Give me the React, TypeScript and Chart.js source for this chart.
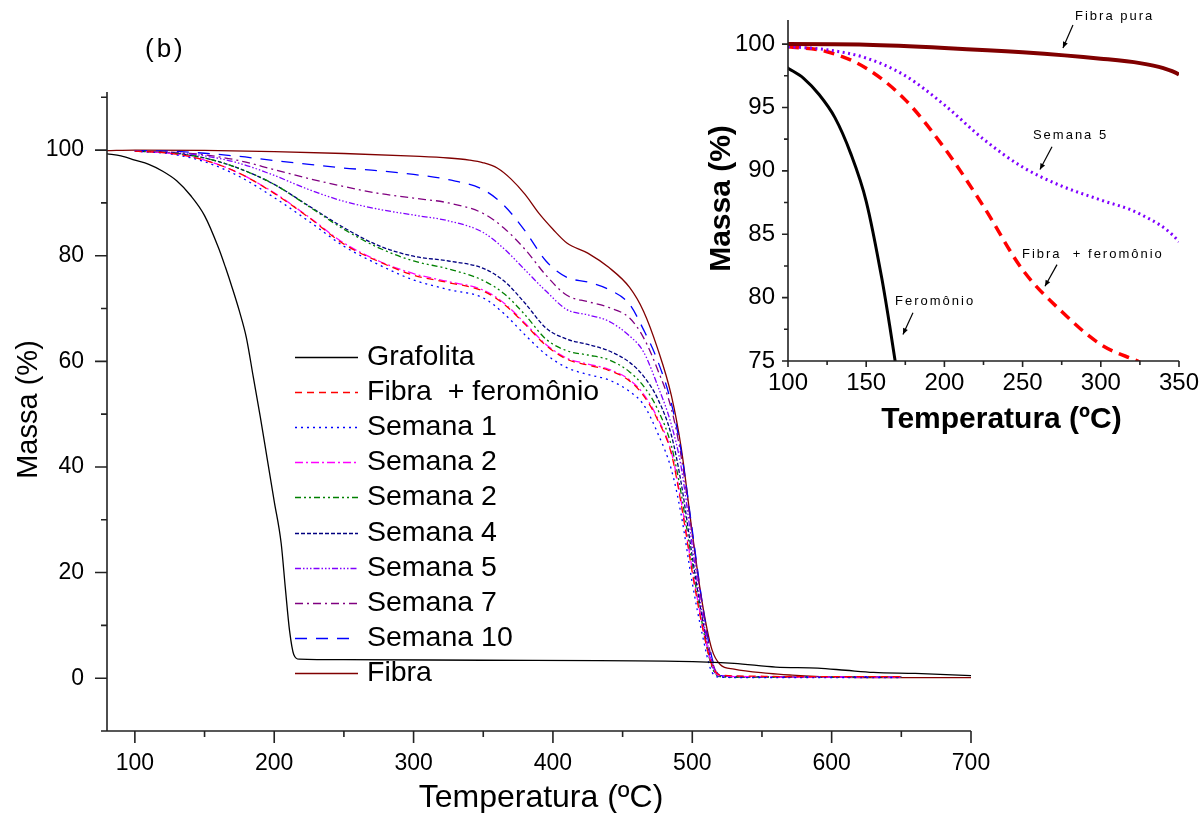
import React, { useEffect, useRef } from "react";
import { Chart, registerables } from "chart.js";

Chart.register(...registerables);

const FONT = "'Liberation Sans', Arial, Helvetica, sans-serif";

// ---------- data ----------
const tempGrafolita = [80, 90, 100, 110, 120, 130, 140, 150, 160, 165, 170, 175, 180, 185, 190, 195, 200, 205, 208, 211, 214, 218, 250, 350, 490, 530, 560, 590, 610, 630, 660, 700];
const grafolita = [99.3, 98.9, 98.1, 97.3, 96.0, 94.2, 91.4, 87.6, 81.5, 77.8, 73.8, 69.5, 64.5, 57.0, 49.5, 41.5, 33.5, 25.5, 17.0, 9.0, 4.5, 3.6, 3.5, 3.4, 3.2, 2.8, 2.1, 1.9, 1.5, 1.1, 0.9, 0.5];

const tempFibra = [80, 100, 150, 200, 250, 300, 325, 340, 350, 360, 370, 380, 390, 400, 410, 425, 440, 455, 465, 475, 485, 492, 500, 507, 514, 520, 530, 555, 570, 600, 650, 700];
const fibra = [99.9, 100.0, 99.95, 99.7, 99.35, 98.85, 98.5, 98.1, 97.6, 96.6, 94.5, 91.6, 88.0, 85.0, 82.4, 80.5, 77.8, 74.0, 69.5, 62.5, 53.5, 43.7, 27.5, 14.5, 5.5, 2.6, 1.7, 0.9, 0.6, 0.2, 0.1, 0.1];

const tempSemana = [100, 125, 150, 175, 200, 225, 250, 275, 300, 325, 350, 365, 380, 395, 410, 425, 440, 455, 465, 475, 485, 492, 500, 507, 514, 520, 540, 570, 600, 650];
const fibraFeromonio = [99.8, 99.4, 98.1, 95.6, 91.8, 87.2, 82.2, 78.9, 76.3, 74.9, 73.3, 70.8, 67.0, 63.0, 60.4, 59.3, 58.3, 56.3, 53.5, 49.0, 42.5, 33.0, 20.0, 10.0, 2.5, 0.6, 0.4, 0.3, 0.3, 0.3];
const semana1 = [99.8, 99.3, 97.8, 95.0, 91.0, 86.5, 81.8, 78.3, 75.4, 73.6, 72.0, 69.0, 65.0, 61.3, 58.8, 57.5, 56.5, 54.3, 51.8, 46.5, 39.5, 31.0, 18.0, 8.5, 1.2, 0.2, 0.1, 0.1, 0.1, 0.1];
const semana2a = [99.8, 99.4, 98.1, 95.6, 91.9, 87.3, 82.4, 79.0, 76.6, 75.1, 73.5, 71.0, 67.2, 63.2, 60.6, 59.5, 58.5, 56.5, 53.8, 49.3, 42.8, 33.5, 20.5, 10.5, 2.6, 0.4, 0.3, 0.2, 0.2, 0.2];
const semana2b = [99.8, 99.5, 98.5, 96.5, 93.5, 89.3, 85.0, 81.5, 79.0, 77.5, 75.3, 72.8, 68.8, 64.2, 62.0, 61.2, 60.3, 58.0, 55.3, 51.0, 44.0, 35.0, 21.5, 10.5, 2.2, 0.3, 0.2, 0.2, 0.2, 0.2];
const semana4 = [99.8, 99.5, 98.5, 96.5, 93.5, 89.4, 85.3, 81.9, 79.9, 79.0, 77.6, 75.2, 71.0, 66.3, 64.2, 63.2, 62.0, 59.8, 57.2, 53.0, 46.0, 37.0, 23.0, 11.5, 2.5, 0.3, 0.2, 0.2, 0.2, 0.2];
const semana5 = [99.8, 99.55, 98.9, 97.5, 95.2, 92.5, 90.3, 88.8, 87.7, 86.6, 84.4, 81.3, 77.3, 73.3, 69.8, 68.8, 67.6, 64.8, 61.8, 55.5, 48.0, 40.0, 25.0, 12.5, 3.0, 0.4, 0.3, 0.3, 0.3, 0.3];
const semana7 = [99.8, 99.6, 99.1, 98.0, 96.3, 94.6, 93.1, 91.8, 90.9, 90.0, 88.0, 85.2, 81.2, 76.3, 72.5, 71.3, 70.2, 68.2, 64.5, 58.5, 51.0, 42.0, 27.0, 14.0, 3.5, 0.5, 0.3, 0.3, 0.3, 0.3];
const semana10 = [99.9, 99.8, 99.4, 98.8, 98.0, 97.3, 96.6, 96.1, 95.4, 94.4, 92.5, 89.5, 84.7, 79.0, 75.9, 75.0, 73.6, 70.8, 66.0, 60.2, 52.0, 43.0, 28.0, 14.5, 4.0, 0.5, 0.3, 0.3, 0.3, 0.3];

const legendLabels = ["Grafolita", "Fibra  + feromônio", "Semana 1", "Semana 2", "Semana 2", "Semana 4", "Semana 5", "Semana 7", "Semana 10", "Fibra"];

const mainXMajor = [100, 200, 300, 400, 500, 600, 700];
const mainXMinor = [150, 250, 350, 450, 550, 650];
const mainYMajor = [0, 20, 40, 60, 80, 100];
const mainYMinor = [-10, 10, 30, 50, 70, 90, 110];

const insetXMajor = [100, 150, 200, 250, 300, 350];
const insetXMinor = [125, 175, 225, 275, 325];
const insetYMajor = [75, 80, 85, 90, 95, 100];
const insetYMinor = [77.5, 82.5, 87.5, 92.5, 97.5];

const insetNoteText = ["Fibra pura", "Semana 5", "Fibra  + feromônio", "Feromônio"];
const insetNoteAnchor = [[283.5, 102.15], [256.6, 92.8], [249.6, 83.4], [168.4, 79.7]];
const insetArrowFrom = [[282.2, 101.5], [268.8, 91.9], [272.0, 82.6], [179.9, 78.8]];
const insetArrowTo = [[275.8, 99.7], [261.1, 90.1], [264.3, 80.9], [173.5, 77.1]];

// ---------- helpers ----------
const pts = (xs: number[], ys: number[]) => xs.map((x, i) => ({ x, y: ys[i] }));

type SeriesStyle = { xs: number[]; ys: number[]; color: string; dash: number[] };
const mainSeries: SeriesStyle[] = [
  { xs: tempGrafolita, ys: grafolita, color: "#000000", dash: [] },
  { xs: tempSemana, ys: fibraFeromonio, color: "#FF0000", dash: [7, 5] },
  { xs: tempSemana, ys: semana1, color: "#0000FF", dash: [2, 4] },
  { xs: tempSemana, ys: semana2a, color: "#FF00FF", dash: [8, 3, 2, 3] },
  { xs: tempSemana, ys: semana2b, color: "#008000", dash: [6, 3, 2, 3, 2, 3] },
  { xs: tempSemana, ys: semana4, color: "#000080", dash: [4, 2] },
  { xs: tempSemana, ys: semana5, color: "#8000FF", dash: [6, 2, 1.5, 2, 1.5, 2, 1.5, 2] },
  { xs: tempSemana, ys: semana7, color: "#800080", dash: [8, 4, 2, 4] },
  { xs: tempSemana, ys: semana10, color: "#0000FF", dash: [12, 9] },
  { xs: tempFibra, ys: fibra, color: "#800000", dash: [] },
];

type AxisSpec = {
  id: string;
  xMajor: number[]; xMinor: number[]; yMajor: number[]; yMinor: number[];
  majorLen: number; minorLen: number; axisWidth: number; xExtend: number;
  tickFont: string; xLabelY: number; yLabelX: number;
  xTitleFont: string; yTitleFont: string;
  xTitle: string; xTitleX: number; xTitleY: number;
  yTitle: string; yTitleX: number; yTitleY: number;
};

function makeAxesPlugin(spec: AxisSpec, extra?: (chart: any) => void) {
  return {
    id: spec.id,
    afterDatasetsDraw(chart: any) {
      const ctx = chart.ctx as CanvasRenderingContext2D;
      const a = chart.chartArea;
      const xs = chart.scales.x;
      const ys = chart.scales.y;
      ctx.save();
      ctx.strokeStyle = "#222";
      ctx.lineWidth = spec.axisWidth;
      ctx.setLineDash([]);
      ctx.beginPath();
      ctx.moveTo(a.left - spec.xExtend, a.bottom);
      ctx.lineTo(a.right, a.bottom);
      ctx.moveTo(a.left, a.top);
      ctx.lineTo(a.left, a.bottom);
      spec.xMajor.forEach((v) => { const p = xs.getPixelForValue(v); ctx.moveTo(p, a.bottom); ctx.lineTo(p, a.bottom + spec.majorLen); });
      spec.xMinor.forEach((v) => { const p = xs.getPixelForValue(v); ctx.moveTo(p, a.bottom); ctx.lineTo(p, a.bottom + spec.minorLen); });
      spec.yMajor.forEach((v) => { const p = ys.getPixelForValue(v); ctx.moveTo(a.left, p); ctx.lineTo(a.left - spec.majorLen, p); });
      spec.yMinor.forEach((v) => { const p = ys.getPixelForValue(v); ctx.moveTo(a.left, p); ctx.lineTo(a.left - spec.minorLen, p); });
      ctx.stroke();

      ctx.fillStyle = "#000";
      ctx.font = spec.tickFont;
      ctx.textBaseline = "middle";
      ctx.textAlign = "center";
      spec.xMajor.forEach((v) => ctx.fillText(String(v), xs.getPixelForValue(v), spec.xLabelY));
      ctx.textAlign = "right";
      spec.yMajor.forEach((v) => ctx.fillText(String(v), spec.yLabelX, ys.getPixelForValue(v)));

      ctx.font = spec.xTitleFont;
      ctx.textAlign = "center";
      ctx.fillText(spec.xTitle, (a.left + a.right) / 2 + spec.xTitleX, spec.xTitleY);
      ctx.save();
      ctx.font = spec.yTitleFont;
      ctx.translate(spec.yTitleX, (a.top + a.bottom) / 2 + spec.yTitleY);
      ctx.rotate(-Math.PI / 2);
      ctx.fillText(spec.yTitle, 0, 0);
      ctx.restore();

      if (extra) extra(chart);
      ctx.restore();
    },
  };
}

function drawMainExtras(chart: any) {
  const ctx = chart.ctx as CanvasRenderingContext2D;
  // panel label
  ctx.fillStyle = "#000";
  ctx.font = `26px ${FONT}`;
  (ctx as any).letterSpacing = "3px";
  ctx.textAlign = "left";
  ctx.textBaseline = "middle";
  ctx.fillText("(b)", 145, 50);
  (ctx as any).letterSpacing = "0px";
  // legend
  const top = 357;
  const step = 35.1;
  chart.data.datasets.forEach((ds: any, i: number) => {
    const y = Math.round(top + i * step) + 0.5;
    ctx.strokeStyle = ds.borderColor;
    ctx.lineWidth = 1.4;
    ctx.setLineDash(ds.borderDash || []);
    ctx.beginPath();
    ctx.moveTo(295, y);
    ctx.lineTo(358, y);
    ctx.stroke();
    ctx.setLineDash([]);
    ctx.fillStyle = "#000";
    ctx.font = `28.5px ${FONT}`;
    ctx.fillText(ds.label, 367, y);
  });
}

function drawInsetExtras(chart: any) {
  const ctx = chart.ctx as CanvasRenderingContext2D;
  const xs = chart.scales.x;
  const ys = chart.scales.y;
  ctx.fillStyle = "#000";
  ctx.strokeStyle = "#000";
  ctx.font = `13px ${FONT}`;
  (ctx as any).letterSpacing = "2px";
  ctx.textAlign = "left";
  ctx.textBaseline = "middle";
  insetNoteText.forEach((t, i) => {
    const [ax, ay] = insetNoteAnchor[i];
    ctx.fillText(t, xs.getPixelForValue(ax), ys.getPixelForValue(ay));
    const [fx, fy] = insetArrowFrom[i];
    const [tx, ty] = insetArrowTo[i];
    const x0 = xs.getPixelForValue(fx), y0 = ys.getPixelForValue(fy);
    const x1 = xs.getPixelForValue(tx), y1 = ys.getPixelForValue(ty);
    ctx.lineWidth = 1.2;
    ctx.setLineDash([]);
    ctx.beginPath();
    ctx.moveTo(x0, y0);
    ctx.lineTo(x1, y1);
    ctx.stroke();
    const ang = Math.atan2(y1 - y0, x1 - x0);
    const L = 6, W = 2.6;
    ctx.beginPath();
    ctx.moveTo(x1, y1);
    ctx.lineTo(x1 - L * Math.cos(ang) + W * Math.sin(ang), y1 - L * Math.sin(ang) - W * Math.cos(ang));
    ctx.lineTo(x1 - L * Math.cos(ang) - W * Math.sin(ang), y1 - L * Math.sin(ang) + W * Math.cos(ang));
    ctx.closePath();
    ctx.fill();
  });
  (ctx as any).letterSpacing = "0px";
}

export default function App() {
  const mainRef = useRef<HTMLCanvasElement>(null);
  const insetRef = useRef<HTMLCanvasElement>(null);

  useEffect(() => {
    if (!mainRef.current || !insetRef.current) return;

    const mainSpec: AxisSpec = {
      id: "mainAxes",
      xMajor: mainXMajor, xMinor: mainXMinor, yMajor: mainYMajor, yMinor: mainYMinor,
      majorLen: 12, minorLen: 6, axisWidth: 1.6, xExtend: 6,
      tickFont: `23px ${FONT}`, xLabelY: 764, yLabelX: 84,
      xTitleFont: `32px ${FONT}`, yTitleFont: `29px ${FONT}`,
      xTitle: "Temperatura (ºC)", xTitleX: 2, xTitleY: 798,
      yTitle: "Massa (%)", yTitleX: 29, yTitleY: -2,
    };

    const main = new Chart(mainRef.current, {
      type: "line",
      data: {
        datasets: mainSeries.map((s, i) => ({
          label: legendLabels[i],
          data: pts(s.xs, s.ys),
          borderColor: s.color,
          borderDash: s.dash,
          borderWidth: 1.3,
          pointRadius: 0,
          fill: false,
          cubicInterpolationMode: "monotone" as const,
        })),
      },
      options: {
        responsive: false,
        animation: false,
        layout: { padding: { left: 0, top: 92, right: 229, bottom: 0 } },
        plugins: { legend: { display: false }, tooltip: { enabled: false } },
        scales: {
          x: {
            type: "linear", min: 80, max: 700,
            grid: { display: false, drawTicks: false },
            border: { display: false },
            ticks: { display: false },
            afterFit: (s: any) => { s.height = 82; },
          },
          y: {
            type: "linear", min: -10, max: 111,
            grid: { display: false, drawTicks: false },
            border: { display: false },
            ticks: { display: false },
            afterFit: (s: any) => { s.width = 107; },
          },
        },
      },
      plugins: [makeAxesPlugin(mainSpec, drawMainExtras)],
    });

    const insetSpec: AxisSpec = {
      id: "insetAxes",
      xMajor: insetXMajor, xMinor: insetXMinor, yMajor: insetYMajor, yMinor: insetYMinor,
      majorLen: 6, minorLen: 4, axisWidth: 1.6, xExtend: 0,
      tickFont: `24px ${FONT}`, xLabelY: 383, yLabelX: 85,
      xTitleFont: `bold 30px ${FONT}`, yTitleFont: `bold 30px ${FONT}`,
      xTitle: "Temperatura (ºC)", xTitleX: 18, xTitleY: 420,
      yTitle: "Massa (%)", yTitleX: 32, yTitleY: 8,
    };

    const inset = new Chart(insetRef.current, {
      type: "line",
      data: {
        datasets: [
          { label: "Fibra pura", data: pts(tempFibra, fibra), borderColor: "#800000", borderWidth: 4, borderDash: [] },
          { label: "Semana 5", data: pts(tempSemana, semana5), borderColor: "#8000FF", borderWidth: 3, borderDash: [2, 3.5] },
          { label: "Fibra + feromônio", data: pts(tempSemana, fibraFeromonio), borderColor: "#FF0000", borderWidth: 3.5, borderDash: [11, 7] },
          { label: "Feromônio", data: pts(tempGrafolita, grafolita), borderColor: "#000000", borderWidth: 3, borderDash: [] },
        ].map((d) => ({ ...d, pointRadius: 0, fill: false, cubicInterpolationMode: "monotone" as const })),
      },
      options: {
        responsive: false,
        animation: false,
        layout: { padding: { left: 0, top: 20, right: 21, bottom: 0 } },
        plugins: { legend: { display: false }, tooltip: { enabled: false } },
        scales: {
          x: {
            type: "linear", min: 100, max: 350,
            grid: { display: false, drawTicks: false },
            border: { display: false },
            ticks: { display: false },
            afterFit: (s: any) => { s.height = 79; },
          },
          y: {
            type: "linear", min: 75, max: 101.9,
            grid: { display: false, drawTicks: false },
            border: { display: false },
            ticks: { display: false },
            afterFit: (s: any) => { s.width = 98; },
          },
        },
      },
      plugins: [makeAxesPlugin(insetSpec, drawInsetExtras)],
    });

    return () => {
      main.destroy();
      inset.destroy();
    };
  }, []);

  return (
    <div style={{ position: "absolute", left: 0, top: 0, width: 1200, height: 813, background: "#fff", overflow: "hidden" }}>
      <canvas ref={mainRef} width={1200} height={813} style={{ position: "absolute", left: 0, top: 0, display: "block" }} />
      <canvas ref={insetRef} width={510} height={440} style={{ position: "absolute", left: 690, top: 0, display: "block" }} />
    </div>
  );
}
